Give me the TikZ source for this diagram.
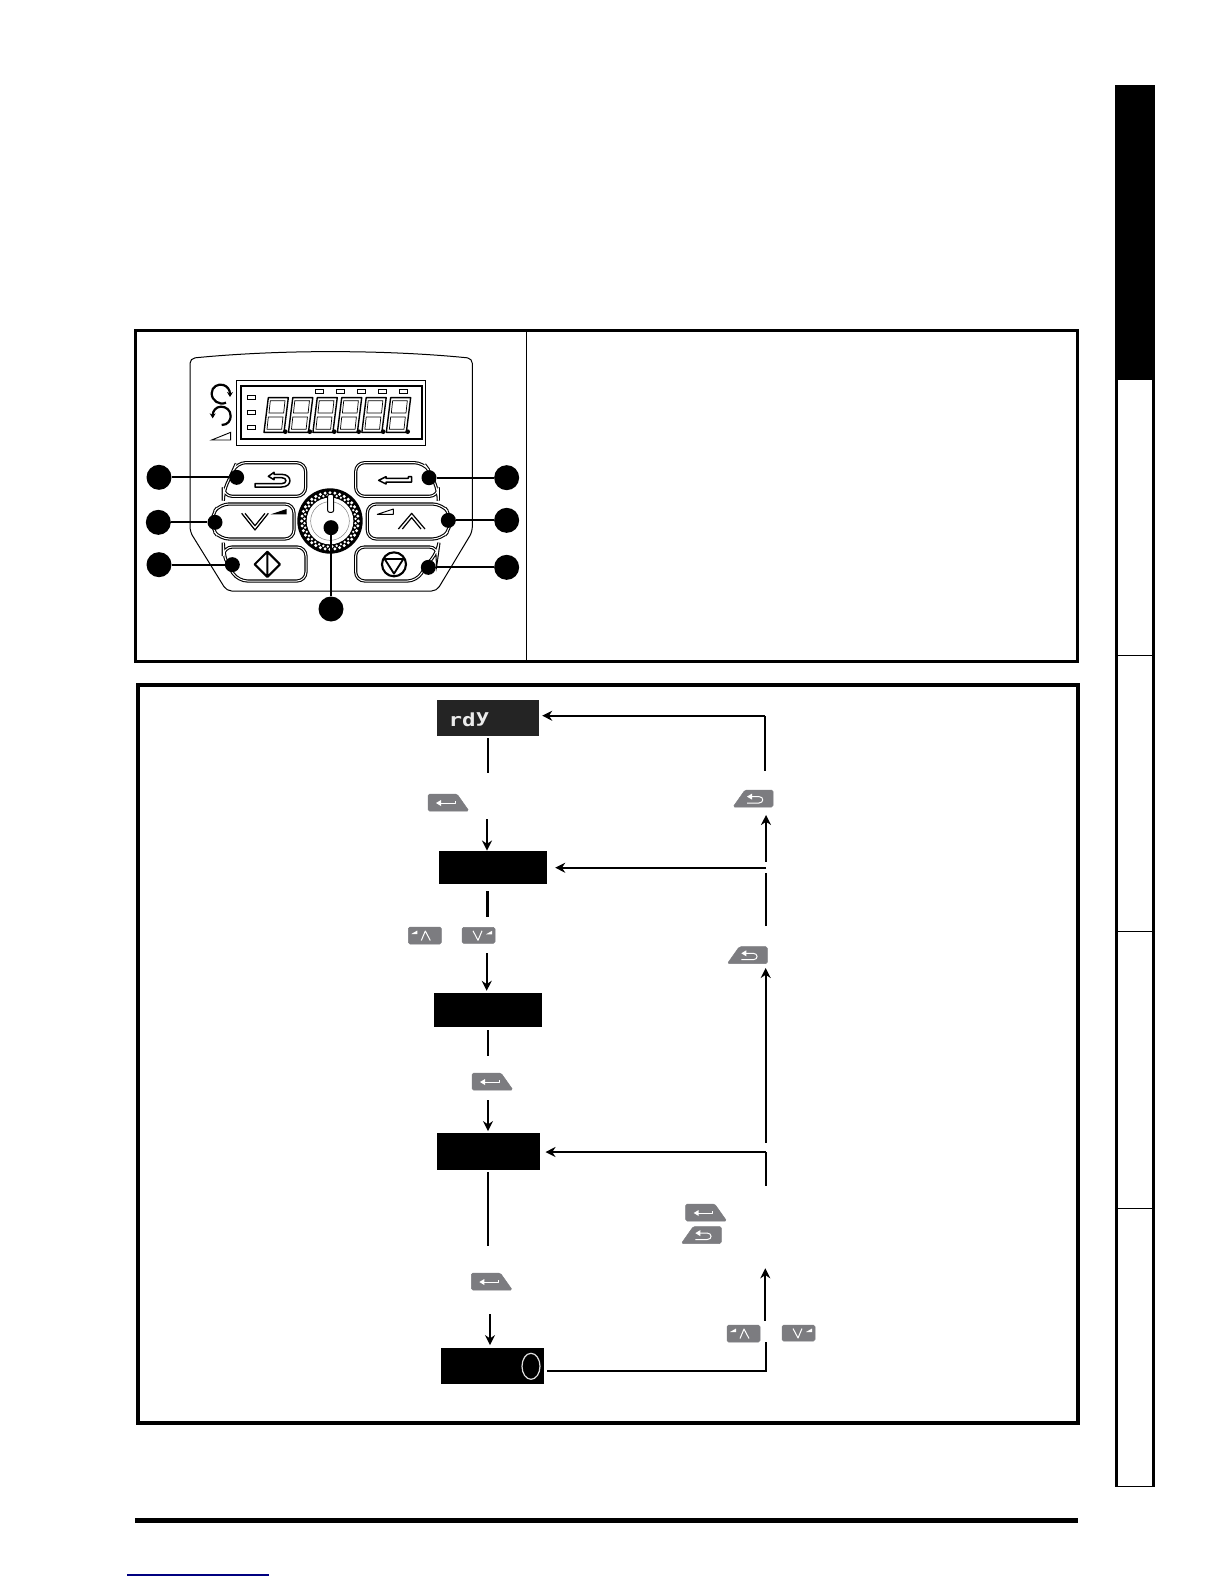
\documentclass[tikz,border=0pt]{standalone}
\usepackage{fontspec}
\newfontfamily\dejamono[Scale=1]{DejaVu Sans Mono}
\usetikzlibrary{arrows.meta,calc}
\definecolor{keygray}{HTML}{7C7C80}
\tikzset{
 frameline/.style={draw=black,line width=3pt},
 keycap/.style={draw=black,double=white,double distance=1pt,line width=1.1pt,rounded corners=9pt,fill=white},
 glyphline/.style={draw=black,line width=1.5pt,line join=round},
 dotbig/.style={circle,fill=black,inner sep=0pt,minimum size=25pt},
 dotsmall/.style={circle,fill=black,inner sep=0pt,minimum size=15pt},
 lead/.style={draw=black,line width=2pt},
 dispbox/.style={fill=black,draw=none,inner sep=0pt},
 flow/.style={draw=black,line width=1.9pt},
 flowarrow/.style={flow,-{Stealth[length=10pt,width=10pt]}},
 keyfill/.style={fill=keygray,draw=keygray,line width=.5pt,rounded corners=1.6pt},
 keyglyph/.style={draw=white,line width=1pt,line join=round},
 zoomA/.style={shift={(140,335)},x=.33333pt,y=-.33333pt},
}
\newcommand\enterkey[2]{\begin{scope}[shift={(#1,#2)}]
 \path[keyfill] (0,0)--(29,0)--(41,17)--(0,17)--cycle;
 \draw[keyglyph] (11,9)--(27,9)--(27,6.5);
 \fill[white] (8,9)--(13,6)--(13,12)--cycle;
\end{scope}}
\newcommand\backkey[2]{\begin{scope}[shift={(#1,#2)}]
 \path[keyfill] (12,0)--(40,0)--(40,17)--(0,17)--cycle;
 \draw[keyglyph] (14,13)--(26,13)..controls (31,13) and (31,6.6)..(26,6.6)--(18,6.6);
 \fill[white] (14,6.6)--(19,3.6)--(19,9.6)--cycle;
\end{scope}}
\newcommand\upkey[2]{\begin{scope}[shift={(#1,#2)}]
 \path[keyfill] (0,0) rectangle (33,17);
 \draw[keyglyph] (13,13.5)--(17,4)--(22,13.5);
 \fill[white] (3,7)--(9,3.5)--(9,7)--cycle;
\end{scope}}
\newcommand\downkey[2]{\begin{scope}[shift={(#1,#2)}]
 \path[keyfill] (0,0) rectangle (33,16);
 \draw[keyglyph] (11,3.5)--(16,13)--(20,3.5);
 \fill[white] (24,7)--(30,3.5)--(30,7)--cycle;
\end{scope}}
\newcommand\segdigit[1]{\begin{scope}[xshift=#1*.33333pt]
 \draw[black,line width=1.4pt,line join=round] (372,292)--(432,292)--(445,188)--(385,188)--cycle;
 \draw[black,line width=.7pt] (391,197)--(435,197)--(431,234)--(387,234)--cycle;
 \draw[black,line width=.7pt] (385,246)--(429,246)--(425,283)--(381,283)--cycle;
 \fill[black] (436,290) circle[radius=7];
\end{scope}}
\begin{document}
\begin{tikzpicture}[x=1pt,y=-1pt]
\useasboundingbox (0,0) rectangle (1224,1584);
\fill[white] (0,0) rectangle (1224,1584);

% side tab
\fill[black] (1115,85) rectangle (1155,380);
\draw[black,line width=3pt] (1116.5,380)--(1116.5,1486) (1153.5,380)--(1153.5,1486);
\foreach \yy in {655.5,931,1208,1486} \draw[black,line width=1pt] (1115,\yy)--(1155,\yy);

% bottom rules
\draw[black,line width=4.5pt] (135,1520.7)--(1078,1520.7);
\draw[blue!50!black,line width=1.3pt] (127,1575)--(269,1575);

% upper frame
\draw[frameline] (135.5,330) rectangle (1077.5,661.5);
\draw[black,line width=1.5pt] (526.5,330)--(526.5,661.5);

% lower frame
\draw[black,line width=4pt] (137.5,685) rectangle (1077.5,1423);

% keypad
\begin{scope}[zoomA]
 \draw[black,line width=1pt,rounded corners=5pt] (150,70)..controls (300,55) and (450,50)..(570,50)..controls (700,50) and (850,55)..(997,70)--(997,590)--(890,768)--(260,768)--(150,590)--cycle;
 \draw[black,line width=.9pt] (288,135) rectangle (857,331);
 \draw[black,line width=1.7pt] (303,152) rectangle (845,313);
 \foreach \i in {0,...,5} {\pgfmathsetmacro\dx{\i*73.4}\segdigit{\dx}}
 \foreach \xx in {537,600,663,727,790} \draw[black,line width=.9pt] (\xx-12,163) rectangle (\xx+12,175);
 \foreach \yy in {187,232,278} \draw[black,line width=.9pt] (322,\yy-6) rectangle (346,\yy+6);
 \draw[black,line width=2.2pt,-{Stealth[length=5pt,width=6pt]}] (258,203)..controls (238,212) and (215,197)..(215,175)..controls (215,155) and (235,145)..(250,150)..controls (262,153) and (270,165)..(270,186);
 \draw[black,line width=2.2pt,-{Stealth[length=5pt,width=6pt]}] (245,270)..controls (265,270) and (272,255)..(272,243)..controls (272,225) and (258,215)..(243,215)..controls (228,215) and (218,228)..(218,250);
 \draw[black,line width=.9pt] (215,315)--(272,315)--(272,292)--cycle;
 % keys
 \path[keycap] (290,383)--(497,383)--(497,484)--(250,484)--(250,470)--(278,410)--cycle;
 \path[keycap] (647,383)--(850,383)--(870,410)--(895,470)--(895,484)--(647,484)--cycle;
 \path[keycap] (240,507)--(462,507)--(462,612)--(240,612)--(215,580)--(215,540)--cycle;
 \path[keycap] (682,507)--(905,507)--(932,540)--(932,580)--(905,612)--(682,612)--cycle;
 \path[keycap] (250,636)--(498,636)--(498,738)--(295,738)--(262,690)--(250,650)--cycle;
 \path[keycap] (647,636)--(895,636)--(893,650)--(860,690)--(830,738)--(647,738)--cycle;
 % glyphs
 \draw[glyphline] (345,446)--(425,446)..controls (442,446) and (442,428)..(425,428)--(402,428)--(402,434)--(385,424)--(402,412)--(402,418)--(425,418)..controls (458,418) and (458,456)..(425,456)--(345,456)--cycle;
 \draw[glyphline] (738,430)--(805,430)--(805,425)--(815,425)--(815,441)--(738,441)--(738,447)--(716,436)--(738,425)--cycle;
 \draw[glyphline,line width=1.2pt] (305,535)--(345,585)--(385,535);
 \draw[glyphline,line width=1.2pt] (315,535)--(345,572)--(375,535);
 \fill[black] (392,538)--(440,522)--(440,538)--cycle;
 \draw[glyphline,line width=1.2pt] (775,582)--(815,535)--(855,582);
 \draw[glyphline,line width=1.2pt] (787,582)--(815,548)--(843,582);
 \draw[glyphline,line width=1pt] (712,538)--(760,522)--(760,538)--cycle;
 \draw[glyphline,line width=2.1pt] (382,650)--(420,688)--(382,726)--(344,688)--cycle (382,650)--(382,726);
 \draw[glyphline,line width=2.1pt] (762,688) circle[radius=36];
 \draw[glyphline,line width=1.8pt] (734,672)--(790,672)--(762,716)--cycle;
 % knob
 \fill[black] (570,558) circle[radius=98];
 \foreach \a in {0,10,...,350} \fill[white] (570,558) ++(\a:85) circle[radius=5];
 \foreach \a in {5,15,...,355} \fill[white] (570,558) ++(\a:77) circle[radius=4];
 \fill[white] (570,558) circle[radius=70];
 \draw[gray,line width=.5pt] (570,558) circle[radius=58];
 \draw[black,line width=1pt,fill=white,rounded corners=2pt] (563,478)--(563,532)--(581,532)--(581,478)--cycle;
 % call-outs
 \node[dotbig] (c1) at (57,427) {}; \node[dotsmall] (s1) at (290,427) {};
 \node[dotbig] (c2) at (55,562) {}; \node[dotsmall] (s2) at (225,562) {};
 \node[dotbig] (c3) at (57,689) {}; \node[dotsmall] (s3) at (277,689) {};
 \node[dotbig] (c4) at (1100,428) {}; \node[dotsmall] (s4) at (867,428) {};
 \node[dotbig] (c5) at (1100,556) {}; \node[dotsmall] (s5) at (925,556) {};
 \node[dotbig] (c6) at (1100,697) {}; \node[dotsmall] (s6) at (865,697) {};
 \node[dotbig] (c7) at (573,822) {}; \node[dotsmall] (s7) at (573,578) {};
 \draw[lead] (c1)--(s1); \draw[lead] (c2)--(s2); \draw[lead] (c3)--(s3);
 \draw[lead] (c4)--(s4); \draw[lead] (c5)--(s5); \draw[lead] (c6)--(s6);
 \draw[lead] (c7)--(s7);
\end{scope}

% flow: display boxes
\node[dispbox,fill=black!86,minimum width=102pt,minimum height=36pt] (rdy) at (488,718) {};
\node[text=black!8,inner sep=0pt,xscale=1.25,font=\dejamono\bfseries\fontsize{18}{18}\selectfont] (rdytext) at (469,720) {rd\raisebox{.24em}{y}};
\node[dispbox,minimum width=108pt,minimum height=33.5pt] (b2) at (493,867.5) {};
\node[dispbox,minimum width=108pt,minimum height=34pt] (b3) at (488.4,1010) {};
\node[dispbox,minimum width=103pt,minimum height=36.4pt] (b4) at (488.8,1151.5) {};
\node[dispbox,minimum width=103pt,minimum height=36pt] (b5) at (492.5,1366.3) {};
\draw[black!12,line width=1.2pt] (531,1366.3) ellipse[x radius=9,y radius=13];

% flow: keys
\enterkey{428}{794}
\upkey{408.3}{927}\downkey{462}{927.3}
\enterkey{472}{1073}
\enterkey{471.3}{1273}
\backkey{733}{790}
\backkey{727.3}{946.7}
\enterkey{685.7}{1204}
\backkey{681.3}{1226.5}
\upkey{727}{1325}\downkey{782}{1325}

% flow: coordinates at the free ends
\coordinate (a1) at (488,773);
\coordinate (a2) at (487,819);
\coordinate (a3) at (487.5,917);
\coordinate (a4) at (486.7,953);
\coordinate (a5) at (488,1056);
\coordinate (a6) at (488,1100);
\coordinate (a7) at (488,1246);
\coordinate (a8) at (490,1314);
\coordinate (r0) at (765.7,1370.7);
\coordinate (r1) at (765.7,1342.3);
\coordinate (r2) at (765.3,1320.7);
\coordinate (r3) at (765.3,1268.3);
\coordinate (r4) at (765.7,1185.7);
\coordinate (r5) at (765.7,1152);
\coordinate (r6) at (765.7,1142.7);
\coordinate (r7) at (765.7,968);
\coordinate (r8) at (766,926);
\coordinate (r9) at (766,867.7);
\coordinate (r10) at (766,872.7);
\coordinate (r11) at (766,861.7);
\coordinate (r12) at (766,815);
\coordinate (r13) at (765,770.7);
\coordinate (r14) at (765,715.7);

% flow: connectors
\draw[flow] (a1 |- rdy.south) ++(0,2)--(a1);
\draw[flowarrow,line width=2.3pt] (a2)--(a2 |- b2.north);
\draw[flow,line width=2.4pt] (a3 |- b2.south) ++(0,7)--(a3);
\draw[flowarrow] (a4)--($(a4 |- b3.north)+(0,-2)$);
\draw[flow] (a5 |- b3.south) ++(0,3)--(a5);
\draw[flowarrow] (a6)--($(a6 |- b4.north)+(0,-2)$);
\draw[flow] (a7 |- b4.south) ++(0,2)--(a7);
\draw[flowarrow] (a8)--($(a8 |- b5.north)+(0,-3)$);
\draw[flow] (r1)--(r0)--($(b5.east |- r0)+(3,0)$);
\draw[flowarrow] (r2)--(r3);
\draw[flow] (r4)--(r5);
\draw[flowarrow] (r5)--($(b4.east |- r5)+(5,0)$);
\draw[flowarrow] (r6)--(r7);
\draw[flow] (r8)--(r10);
\draw[flowarrow] (r9)--($(b2.east |- r9)+(8,0)$);
\draw[flowarrow] (r11)--(r12);
\draw[flow] (r13)--(r14);
\draw[flowarrow] (r14)--($(rdy.east |- r14)+(3,0)$);
\end{tikzpicture}
\end{document}
